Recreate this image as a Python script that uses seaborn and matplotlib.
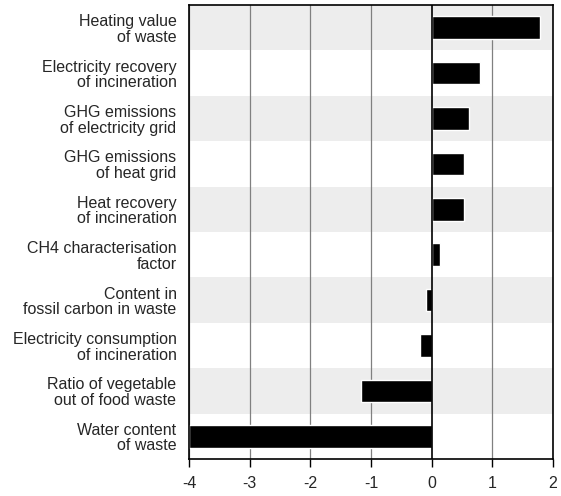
import pandas as pd
import seaborn as sns
import matplotlib.pyplot as plt

# parameters and their sensitivity values
parameters = [
    'Heating value\nof waste',
    'Electricity recovery\nof incineration',
    'GHG emissions\nof electricity grid',
    'GHG emissions\nof heat grid',
    'Heat recovery\nof incineration',
    'CH4 characterisation\nfactor',
    'Content in\nfossil carbon in waste',
    'Electricity consumption\nof incineration',
    'Ratio of vegetable\nout of food waste',
    'Water content\nof waste',
]
values = [1.79, 0.80, 0.62, 0.53, 0.54, 0.14, -0.10, -0.19, -1.16, -4.0]
x_ticks = [-4, -3, -2, -1, 0, 1, 2]

df = pd.DataFrame({'parameter': parameters, 'value': values})

sns.set_style('white')
plt.rcParams['font.family'] = ['Liberation Sans', 'DejaVu Sans']

fig = plt.figure(figsize=(5.61, 4.96), dpi=100)
ax = fig.add_axes([189 / 561, 1 - 459 / 496, 364 / 561, 454 / 496])

# alternating grey bands
for i in range(0, len(parameters), 2):
    ax.axhspan(i - 0.5, i + 0.5, color='#ededed', zorder=0, lw=0)

for t in x_ticks:
    if t != 0:
        ax.axvline(t, color='#808080', lw=0.9, zorder=1)

sns.barplot(data=df, x='value', y='parameter', orient='h', color='black',
            width=0.5, saturation=1, ax=ax, zorder=3)

ax.axvline(0, color='black', lw=1.2, zorder=4)

ax.set_xlim(-4, 2)
ax.set_ylim(len(parameters) - 0.5, -0.5)
ax.set_xticks(x_ticks)
ax.set_xticklabels([str(t) for t in x_ticks])
ax.set_xlabel('')
ax.set_ylabel('')
ax.tick_params(axis='x', length=6, width=1, color='black', labelsize=11.5, pad=6, direction='out', bottom=True)
ax.tick_params(axis='y', length=0, labelsize=11.5, pad=9)
for lab in ax.get_yticklabels():
    lab.set_linespacing(1.05)
for s in ax.spines.values():
    s.set_color('black')
    s.set_linewidth(1.2)
    s.set_zorder(5)

plt.savefig('out.png', dpi=100)
